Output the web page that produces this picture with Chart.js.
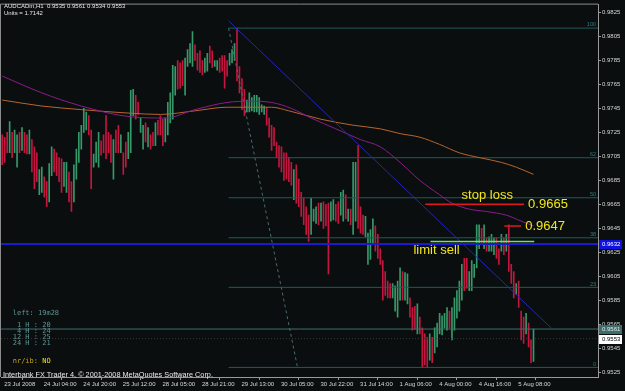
<!DOCTYPE html>
<html>
<head>
<meta charset="utf-8">
<script src="https://cdn.jsdelivr.net/npm/chart.js@4.4.1/dist/chart.umd.min.js"></script>
<style>
html,body{margin:0;padding:0;background:#0a0e0e}
#wrap{width:625px;height:391px}
</style>
</head>
<body>
<div id="wrap"><canvas id="c" width="625" height="391"></canvas></div>
<script>
// AUDCADm H1 bars (bar index 0 = first visible bar)
const highs = [
  0.9723,0.9721,0.9725,0.9734,0.9725,0.9727,0.9723,0.9725,0.9729,0.9725,0.9723,0.9727,
  0.9719,0.9713,0.9708,0.9694,0.9696,0.9688,0.9684,0.9699,0.9713,0.9711,0.9708,0.9704,
  0.9703,0.9700,0.9700,0.9692,0.9684,0.9698,0.9711,0.9725,0.9731,0.9745,0.9742,0.9739,
  0.9727,0.9707,0.9717,0.9725,0.9718,0.9723,0.9739,0.9725,0.9723,0.9719,0.9727,0.9731,
  0.9723,0.9708,0.9717,0.9725,0.9760,0.9761,0.9756,0.9750,0.9737,0.9731,0.9733,0.9729,
  0.9723,0.9725,0.9733,0.9735,0.9739,0.9736,0.9737,0.9750,0.9758,0.9781,0.9780,0.9785,
  0.9783,0.9785,0.9787,0.9794,0.9799,0.9809,0.9798,0.9791,0.9793,0.9785,0.9787,0.9791,
  0.9797,0.9793,0.9785,0.9785,0.9787,0.9789,0.9789,0.9785,0.9791,0.9794,0.9799,0.9812,
  0.9780,0.9770,0.9761,0.9752,0.9758,0.9754,0.9756,0.9756,0.9754,0.9748,0.9747,0.9746,
  0.9737,0.9731,0.9729,0.9717,0.9714,0.9713,0.9708,0.9708,0.9704,0.9700,0.9694,0.9698,
  0.9686,0.9675,0.9670,0.9663,0.9656,0.9670,0.9661,0.9663,0.9666,0.9666,0.9667,0.9665,
  0.9666,0.9667,0.9669,0.9665,0.9667,0.9675,0.9677,0.9673,0.9661,0.9661,0.9700,0.9700,
  0.9714,0.9663,0.9656,0.9655,0.9641,0.9644,0.9653,0.9647,0.9640,0.9628,0.9618,0.9609,
  0.9601,0.9599,0.9599,0.9597,0.9601,0.9612,0.9609,0.9608,0.9607,0.9587,0.9579,0.9580,
  0.9582,0.9571,0.9562,0.9557,0.9554,0.9557,0.9554,0.9562,0.9566,0.9574,0.9572,0.9574,
  0.9579,0.9576,0.9579,0.9587,0.9593,0.9601,0.9615,0.9620,0.9620,0.9609,0.9618,0.9615,
  0.9648,0.9648,0.9645,0.9648,0.9637,0.9638,0.9640,0.9637,0.9637,0.9628,0.9640,0.9637,
  0.9640,0.9648,0.9615,0.9609,0.9599,0.9601,0.9576,0.9571,0.9574,0.9566,0.9552,0.9561
]
const lows = [
  0.9698,0.9700,0.9708,0.9708,0.9704,0.9708,0.9696,0.9708,0.9710,0.9708,0.9707,0.9707,
  0.9692,0.9678,0.9684,0.9673,0.9675,0.9671,0.9663,0.9667,0.9689,0.9692,0.9689,0.9684,
  0.9675,0.9680,0.9675,0.9667,0.9659,0.9667,0.9686,0.9700,0.9711,0.9725,0.9727,0.9723,
  0.9678,0.9696,0.9700,0.9696,0.9706,0.9708,0.9703,0.9708,0.9700,0.9686,0.9708,0.9708,
  0.9708,0.9690,0.9696,0.9703,0.9708,0.9739,0.9736,0.9740,0.9725,0.9711,0.9717,0.9713,
  0.9711,0.9714,0.9714,0.9723,0.9723,0.9714,0.9717,0.9723,0.9733,0.9736,0.9756,0.9761,
  0.9762,0.9764,0.9756,0.9780,0.9783,0.9780,0.9785,0.9777,0.9775,0.9773,0.9775,0.9776,
  0.9783,0.9779,0.9780,0.9777,0.9775,0.9776,0.9762,0.9772,0.9781,0.9783,0.9785,0.9768,
  0.9758,0.9744,0.9739,0.9742,0.9742,0.9743,0.9742,0.9742,0.9740,0.9742,0.9740,0.9731,
  0.9721,0.9710,0.9714,0.9704,0.9696,0.9692,0.9685,0.9686,0.9684,0.9681,0.9669,0.9666,
  0.9663,0.9655,0.9648,0.9640,0.9634,0.9640,0.9651,0.9649,0.9648,0.9651,0.9645,0.9647,
  0.9607,0.9651,0.9652,0.9651,0.9649,0.9656,0.9651,0.9653,0.9651,0.9648,0.9640,0.9651,
  0.9645,0.9641,0.9640,0.9638,0.9615,0.9619,0.9632,0.9626,0.9620,0.9615,0.9585,0.9589,
  0.9587,0.9587,0.9587,0.9576,0.9571,0.9585,0.9585,0.9585,0.9582,0.9571,0.9560,0.9561,
  0.9557,0.9557,0.9529,0.9531,0.9529,0.9535,0.9533,0.9541,0.9546,0.9557,0.9556,0.9562,
  0.9560,0.9562,0.9552,0.9560,0.9570,0.9576,0.9585,0.9593,0.9595,0.9593,0.9593,0.9604,
  0.9612,0.9628,0.9632,0.9628,0.9626,0.9626,0.9626,0.9623,0.9620,0.9615,0.9626,0.9623,
  0.9626,0.9609,0.9599,0.9587,0.9590,0.9579,0.9552,0.9549,0.9557,0.9546,0.9533,0.9534
]
// u = up bar, d = down bar
const barDir = [
  'ddduduududdu','ddduudduuddd','duudduuuuuud','duuudddddudd',
  'udduuudduudu','dduddduuuuud','dduuuudddduu','dduudddduuud',
  'ddduuuuuuuud','ddddddddddud','ddddduuududd','duudduududuu',
  'ddduuuuddddd','dduuuuduuddd','udddduduuuuu','uduuuuudduuu',
  'uududuuuddud','uddduddduddu'
].join('').split('')

// moving averages, sampled along the curves
const purpleBars = [0,16,32,52,66,78,91,100,109,117,125,135,145,153,161,169,177,182,189,196,204,210,215]
const purpleVals = [0.9772,0.9758,0.9747,0.9738,0.9737,0.9744,0.9750,0.9751,0.9750,0.9745,0.9737,0.9728,
  0.9719,0.9713,0.9700,0.9685,0.9673,0.9666,0.9661,0.9659,0.9656,0.9651,0.9647]
const orangeBars = [0,16,32,52,64,78,91,102,109,116,129,142,153,161,169,177,185,193,202,208,215]
const orangeVals = [0.9752,0.9747,0.9744,0.9741,0.9740,0.9743,0.9746,0.9746,0.9746,0.9743,0.9736,0.9731,
  0.9728,0.9724,0.9721,0.9715,0.9708,0.9704,0.9700,0.9696,0.9690]

const xTickBars = [0,16,32,48,64,80,96,112,128,144,160,176,192,208]
const xTickLabels = ['23 Jul 2008','24 Jul 04:00','24 Jul 20:00','25 Jul 12:00','28 Jul 05:00','28 Jul 21:00',
  '29 Jul 13:00','30 Jul 05:00','30 Jul 22:00','31 Jul 14:00','1 Aug 06:00','4 Aug 00:00','4 Aug 16:00','5 Aug 08:00']
const yTickVals = [0.9525,0.9545,0.9565,0.9585,0.9605,0.9625,0.9645,0.9665,0.9685,0.9705,0.9725,0.9745,0.9765,0.9785,0.9805,0.9825]

// objects on the chart
const fibFrom = [91.6, 0.9812]
const fibTo = [119.5, 0.9529]
const fibRatios = [0, 0.236, 0.382, 0.5, 0.618, 1]
const fibNames = ['0','23','38','50','62','100']
const trendFrom = [91.6, 0.9818]
const trendTo = [222.1, 0.9562]
const blueLevel = 0.9632
const tealLevel = 0.9561
const bidLevel = 0.9553
const stopLoss = [171.2, 211.2, 0.9665]
const stopHigh = [203.2, 210.0, 0.9647]
const limitSell = [173.3, 215.3, 0.9634]

const xMin = -0.5, xMax = 241.1
const upColor = '#36996a', downColor = '#c4163f'

const seg = (x1, y1, x2, y2) => [{x: x1, y: y1}, {x: x2, y: y2}]
const fibPrice = r => fibTo[1] + r * (fibFrom[1] - fibTo[1])

const lineSet = (data, color, width, dash, order) => ({
  type: 'line', data: data, borderColor: color, borderWidth: width, borderDash: dash || [],
  pointRadius: 0, fill: false, tension: 0, order: order
})

const datasets = []
datasets.push({
  type: 'bar',
  data: highs.map((h, i) => ({x: i, y: [lows[i], h]})),
  backgroundColor: barDir.map(d => d == 'u' ? upColor : downColor),
  barThickness: 1, borderWidth: 0, order: 9
})
fibRatios.forEach(r => {
  datasets.push(lineSet(seg(fibFrom[0], fibPrice(r), xMax, fibPrice(r)), '#1f5b5b', 1, null, 6))
})
datasets.push(lineSet(seg(fibFrom[0], fibFrom[1], fibTo[0], fibTo[1]), '#4a6b6b', 1, [3, 3], 6))
datasets.push(lineSet(seg(xMin, tealLevel, xMax, tealLevel), '#3f6f6f', 1, null, 6))
datasets.push(lineSet(seg(xMin, bidLevel, xMax, bidLevel), '#383838', 1, [1, 2], 6))
datasets.push(Object.assign(lineSet(purpleBars.map((b, i) => ({x: b, y: purpleVals[i]})), '#8b1c8b', 1, null, 4), {tension: 0.4, cubicInterpolationMode: 'monotone'}))
datasets.push(Object.assign(lineSet(orangeBars.map((b, i) => ({x: b, y: orangeVals[i]})), '#b8642c', 1, null, 4), {tension: 0.4, cubicInterpolationMode: 'monotone'}))
datasets.push(lineSet(seg(xMin, blueLevel, xMax, blueLevel), '#1a1ad0', 2, null, 3))
datasets.push(lineSet(seg(trendFrom[0], trendFrom[1], trendTo[0], trendTo[1]), '#2424c0', 1, null, 3))
datasets.push(lineSet(seg(stopLoss[0], stopLoss[2], stopLoss[1], stopLoss[2]), '#e01818', 1.5, null, 2))
datasets.push(lineSet(seg(stopHigh[0], stopHigh[2], stopHigh[1], stopHigh[2]), '#e01818', 1.5, null, 2))
datasets.push(lineSet(seg(limitSell[0], limitSell[2], limitSell[1], limitSell[2]), '#66e866', 1.5, null, 2))

const smallFont = '6px "Liberation Sans"'

function priceBox(c, ys, a, price, bg, fg) {
  const y = Math.round(ys.getPixelForValue(price))
  c.fillStyle = bg
  c.fillRect(a.right + 1, y - 4, 23, 9)
  c.fillStyle = fg
  c.font = smallFont
  c.textAlign = 'left'
  c.textBaseline = 'middle'
  c.fillText(price.toFixed(4), a.right + 4, y + 0.5)
}

const decor = {
  id: 'decor',
  beforeDraw(chart) {
    const c = chart.ctx
    c.save()
    c.fillStyle = '#0a0e0e'
    c.fillRect(0, 0, chart.width, chart.height)
    c.restore()
  },
  afterDraw(chart) {
    const c = chart.ctx, xs = chart.scales.x, ys = chart.scales.y, a = chart.chartArea
    c.save()
    // frame
    c.strokeStyle = '#8c8c8c'
    c.lineWidth = 1
    c.beginPath()
    c.moveTo(a.left - 0.5, a.bottom)
    c.lineTo(a.left - 0.5, a.top - 0.5)
    c.lineTo(a.right, a.top - 0.5)
    c.stroke()

    // fibo level names
    c.font = '5.5px "Liberation Sans"'
    c.fillStyle = '#2f7f7f'
    c.textAlign = 'right'
    c.textBaseline = 'bottom'
    fibRatios.forEach((r, i) => {
      c.fillText(fibNames[i], a.right - 2, ys.getPixelForValue(fibPrice(r)) - 0.5)
    })

    // order labels
    c.font = '13px "Liberation Sans"'
    c.fillStyle = '#f2e61a'
    c.textBaseline = 'middle'
    c.textAlign = 'left'
    c.fillText('0.9665', xs.getPixelForValue(stopLoss[1]) + 4, ys.getPixelForValue(stopLoss[2]) + 0.5)
    c.fillText('0.9647', xs.getPixelForValue(stopHigh[1]) + 4, ys.getPixelForValue(stopHigh[2]) + 0.5)
    c.fillText('limit sell', xs.getPixelForValue(limitSell[0]) - 17, ys.getPixelForValue(limitSell[2]) + 8.5)
    c.textAlign = 'center'
    c.fillText('stop loss', xs.getPixelForValue(stopLoss[0]) + 62, ys.getPixelForValue(stopLoss[2]) - 8.5)

    // price boxes on the scale
    priceBox(c, ys, a, blueLevel, '#1010e0', '#ffffff')
    priceBox(c, ys, a, tealLevel, '#3c6c6c', '#e8e8e8')
    priceBox(c, ys, a, bidLevel, '#ffffff', '#000000')

    // header
    c.font = smallFont
    c.fillStyle = '#e8e8e8'
    c.textAlign = 'left'
    c.textBaseline = 'top'
    c.fillText('AUDCADm,H1  0.9535 0.9561 0.9534 0.9553', 4, 3)
    c.fillText('Units = 1.7142', 4, 10)
    c.font = '7.3px "Liberation Sans"'
    c.fillText('Interbank FX Trader 4, \u00a9 2001-2008 MetaQuotes Software Corp.', 3, 371)

    // info block, bottom left
    c.font = '7px "DejaVu Sans Mono"'
    c.textBaseline = 'middle'
    c.fillStyle = '#5f9595'
    const rows = [[' left: 19m28', 313], ['  1 H : 20', 325.5], ['  4 H : 24', 331.5], [' 12 H : 25', 337.3], [' 24 H : 21', 343.3]]
    rows.forEach(r => c.fillText(r[0], 8.5, r[1]))
    c.fillStyle = '#c8a11e'
    c.fillText(' nr/ib:', 8.5, 361)
    c.fillStyle = '#ece21c'
    c.fillText('NO', 8.5 + 8 * 4.21, 361)
    c.restore()
  }
}

new Chart(document.getElementById('c'), {
  data: {datasets: datasets},
  options: {
    responsive: false,
    animation: false,
    devicePixelRatio: 1,
    layout: {padding: {left: 1, top: 1, right: 0, bottom: 0}},
    plugins: {legend: {display: false}, tooltip: {enabled: false}},
    scales: {
      x: {
        type: 'linear', min: xMin, max: xMax, offset: false,
        afterBuildTicks: s => { s.ticks = xTickBars.map(v => ({value: v})) },
        afterFit: s => { s.height = 14 },
        grid: {drawOnChartArea: false, drawTicks: true, tickLength: 3, color: '#9a9a9a'},
        border: {color: '#9a9a9a'},
        ticks: {
          autoSkip: false, maxRotation: 0, minRotation: 0, align: 'start', labelOffset: 2, padding: 1,
          color: '#d8d8d8', font: {family: 'Liberation Sans', size: 6},
          callback: v => xTickLabels[xTickBars.indexOf(v)]
        }
      },
      y: {
        type: 'linear', position: 'right', min: 0.9521, max: 0.98316,
        afterBuildTicks: s => { s.ticks = yTickVals.map(v => ({value: v})) },
        afterFit: s => { s.width = 27 },
        grid: {drawOnChartArea: false, drawTicks: true, tickLength: 3, color: '#9a9a9a'},
        border: {color: '#9a9a9a'},
        ticks: {
          padding: 1, color: '#d8d8d8', font: {family: 'Liberation Sans', size: 6},
          callback: v => v.toFixed(4)
        }
      }
    }
  },
  plugins: [decor]
})
</script>
</body>
</html>
